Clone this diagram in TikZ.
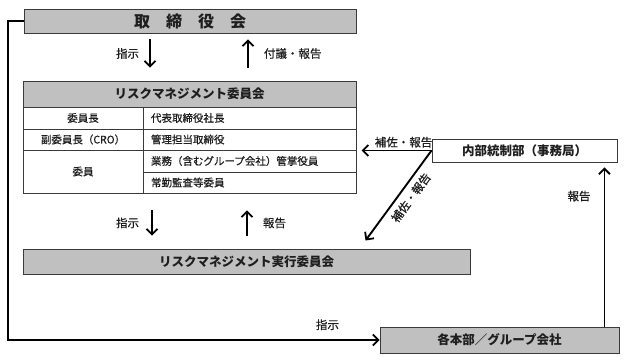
\documentclass[tikz,border=0pt]{standalone}
\usepackage{fontspec}
\newfontfamily\jp{Noto Sans CJK JP}
\newfontfamily\jpm{Noto Sans CJK JP}[RawFeature={embolden=0.6}]
\usetikzlibrary{arrows.meta,positioning,calc}
\definecolor{RiskGray}{HTML}{C0C0C0}
\definecolor{RiskLine}{HTML}{3A3A3A}
\definecolor{RiskText}{HTML}{1E1E1E}
\tikzset{
  graybox/.style={draw=RiskLine, fill=RiskGray, line width=0.9pt, inner sep=0pt,
                  text=RiskText, font=\jp\bfseries\fontsize{12.5}{14}\selectfont},
  whitebox/.style={graybox, fill=white},
  cell/.style={draw=RiskLine, line width=0.6pt, inner sep=0pt, text=RiskText,
               font=\jpm\fontsize{10.5}{12}\selectfont},
  rcell/.style={cell, text width=197pt, inner xsep=8pt, align=left},
  order/.style={-{Straight Barb[length=5.5pt,width=11pt,line width=1.8pt]}, line width=1.9pt, draw=black},
  lbl/.style={inner sep=1pt, text=RiskText, font=\jpm\fontsize{11.5}{13}\selectfont},
}
\begin{document}
\begin{tikzpicture}[x=1pt,y=-1pt]
    \useasboundingbox (0,0) rectangle (627,361);
    \node[graybox,minimum width=332pt,minimum height=24pt,font=\jp\bfseries\fontsize{16}{18}\selectfont] (board) at (190,21) {取\hspace{1em}締\hspace{1em}役\hspace{1em}会};
    \node[graybox,minimum width=333pt,minimum height=26pt] (rmc) at (189.5,94) {リスクマネジメント委員会};
    \node[cell,minimum width=120pt,minimum height=22pt] (chair) at (83,118) {委員長};
    \node[rcell,minimum height=22pt] (chairname) at (249.5,118) {代表取締役社長};
    \node[cell,minimum width=120pt,minimum height=21pt] (vice) at (83,139.5) {副委員長（CRO）};
    \node[rcell,minimum height=21pt] (vicename) at (249.5,139.5) {管理担当取締役};
    \node[cell,minimum width=120pt,minimum height=43pt] (member) at (83,171.5) {委員};
    \node[rcell,minimum height=22pt] (memberone) at (249.5,161) {業務（含むグループ会社）管掌役員};
    \node[rcell,minimum height=21pt] (membertwo) at (249.5,182.5) {常勤監査等委員};
    \node[graybox,minimum width=447pt,minimum height=25pt] (exec) at (246.5,261.5) {リスクマネジメント実行委員会};
    \node[whitebox,minimum width=185pt,minimum height=23pt] (office) at (524.5,150.5) {内部統制部（事務局）};
    \node[graybox,minimum width=239pt,minimum height=26pt] (branch) at (499.5,340) {各本部／グループ会社};
    \draw[order] ([xshift=-40pt,yshift=-6pt]board.south) -- ([xshift=-39.5pt,yshift=13pt]rmc.north)
      node[lbl,midway,left=9pt] {指示};
    \draw[order] ([xshift=58.5pt,yshift=13pt]rmc.north) -- ([xshift=58pt,yshift=-6pt]board.south)
      node[lbl,midway,right=14pt] {付議・報告};
    \draw[order] ([xshift=-37.5pt,yshift=-17pt]membertwo.south -| rmc.south) -- ([xshift=-94.5pt,yshift=13pt]exec.north)
      node[lbl,midway,left=11pt] {指示};
    \draw[order] ([xshift=0.5pt,yshift=13pt]exec.north) -- ([xshift=57.5pt,yshift=-17pt]membertwo.south -| rmc.south)
      node[lbl,midway,right=14pt] {報告};
    \draw[order] (office.west) -- ++(-70,0) node[lbl,pos=0.4,above=1pt] {補佐・報告};
    \draw[order] (office.west) -- ++(-66,90) node[lbl,pos=0.45,sloped,below=4pt] {補佐・報告};
    \draw[order] ([xshift=-15pt]branch.north east) -- ([xshift=-13pt,yshift=-5pt]office.south east)
      node[lbl,pos=0.82,left=12pt] {報告};
    \draw[order] (board.west) -- ++(-16,0) |- (branch.west)
      node[lbl,pos=0.93,above=8pt] {指示};
  \end{tikzpicture}
\end{document}
